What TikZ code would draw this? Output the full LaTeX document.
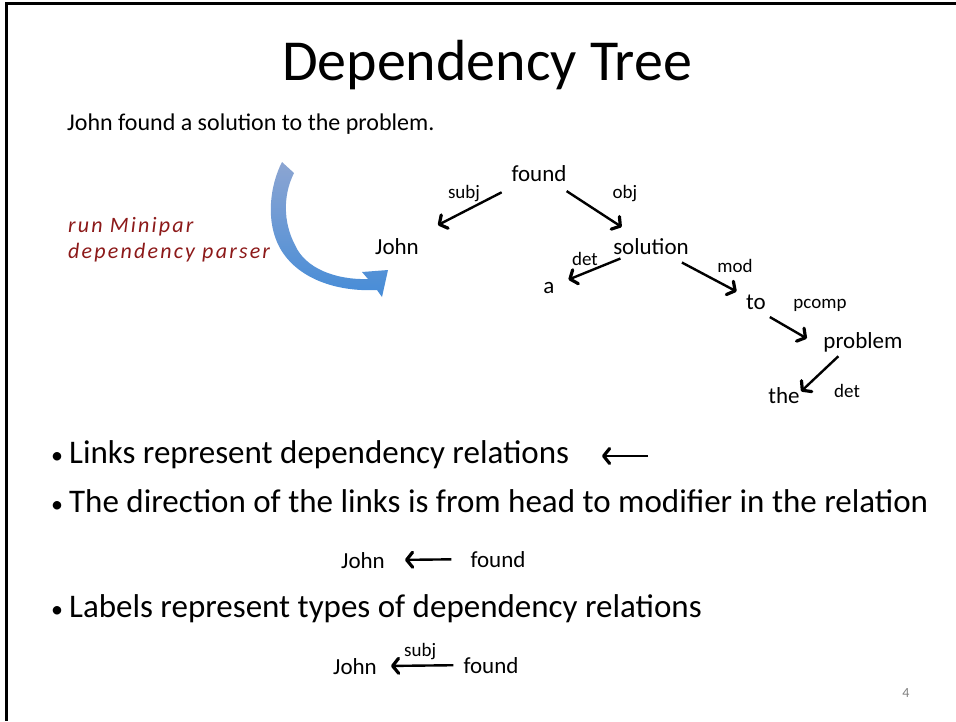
\documentclass[tikz,border=0pt]{standalone}
\usepackage{fontspec}
\setmainfont{Carlito}
\usepackage{tikz}
\usetikzlibrary{arrows.meta,positioning,calc}
\definecolor{handred}{RGB}{140,25,25}
\definecolor{bendtop}{RGB}{140,165,210}
\definecolor{bendbot}{RGB}{70,140,215}
\newcommand{\bulletmark}{{\fontsize{24}{24}\selectfont•}\hspace{6pt}}

\begin{document}
\begin{tikzpicture}[x=1pt, y=-1pt,
    word/.style={anchor=base, inner sep=0pt, font=\fontsize{23}{26}\selectfont},
    rel/.style={anchor=base, inner sep=0pt, font=\fontsize{19}{22}\selectfont},
    point/.style={anchor=base west, inner sep=0pt, font=\fontsize{33}{38}\selectfont},
    hand/.style={anchor=base west, inner sep=0pt, text=handred,
        font=\fontsize{22}{24}\selectfont\itshape\addfontfeature{LetterSpace=10}},
    arrow/.style={-{Straight Barb[length=6pt, width=15pt, line width=3.2pt, round]}, line width=2.4pt}
]
\useasboundingbox (0,0) rectangle (956,721);
% slide frame
\draw[line width=3pt] (5,3.5) -- (956,3.5);
\draw[line width=3pt] (6.5,2) -- (6.5,721);

\node[anchor=base, inner sep=0pt, font=\fontsize{58}{64}\selectfont] (title) at (487,80) {Dependency Tree};
\node[anchor=base west, inner sep=0pt, font=\fontsize{24}{28}\selectfont] (sentence) at (67,130) {John found a solution to the problem.};

% parser note and bent arrow
\node[hand] (runline) at (68,232) {run Minipar};
\node[hand] (parserline) at (68,258) {dependency parser};
\shade[top color=bendtop, bottom color=bendbot]
    (282,162) .. controls (270,185) and (264,225) .. (283,253)
    .. controls (300,278) and (335,292) .. (377,290)
    -- (382,297) -- (388,270) -- (362,272) -- (368,279)
    .. controls (335,280) and (305,268) .. (295,245)
    .. controls (283,222) and (283,195) .. (294,173) -- cycle;

% tree
\node[word] (found) at (539,181) {found};
\node[word] (john) at (397,254) {John};
\node[word] (solution) at (651,254) {solution};
\node[word] (a) at (549,293) {a};
\node[word] (to) at (756,309) {to};
\node[word] (problem) at (863,348) {problem};
\node[word] (the) at (784,403) {the};

\node[rel] (subj) at (464,198) {subj};
\node[rel] (obj) at (625,198) {obj};
\node[rel] (det) at (585,265) {det};
\node[rel] (mod) at (735,272) {mod};
\node[rel] (pcomp) at (820,308) {pcomp};
\node[rel] (det2) at (847,397) {det};

\draw[arrow, shorten <=42pt, shorten >=46pt] (found.center) -- (john.center);
\draw[arrow, shorten <=33pt, shorten >=35pt] (found.center) -- (solution.center);
\draw[arrow, shorten <=33pt, shorten >=21pt] (solution.center) -- (a.center);
\draw[arrow, shorten <=35pt, shorten >=22pt] (solution.center) -- (to.center);
\draw[arrow, shorten <=16pt, shorten >=19pt] (to.base) -- (problem.base west);
\draw[arrow, shorten <=12pt, shorten >=17pt] ($(problem.base west)!0.3!(problem.base east)$) -- ($(the.base)!0.3!(the.base east)$);

% explanation
\node[point] (links) at (51,463) {\bulletmark Links represent dependency relations};
\coordinate (linktail) at (648,456);
\draw[arrow] (linktail) -- (602,456);
\node[point] (direction) at (51,512) {\bulletmark The direction of the links is from head to modifier in the relation};
\node[word] (john2) at (363,568) {John};
\node[word] (found2) at (498,567) {found};
\draw[arrow, shorten <=19pt, shorten >=20pt] (found2.west) -- (john2.east);
\node[point] (labels) at (51,617) {\bulletmark Labels represent types of dependency relations};
\node[word] (john3) at (355,674) {John};
\node[word] (found3) at (491,673) {found};
\draw[arrow, shorten <=10pt, shorten >=14pt] (found3.west) -- node[above=1pt, font=\fontsize{19}{22}\selectfont] {subj} (john3.east);

\node[text=gray, font=\fontsize{14}{16}\selectfont] (pagenum) at (906,693) {4};
\end{tikzpicture}
\end{document}
